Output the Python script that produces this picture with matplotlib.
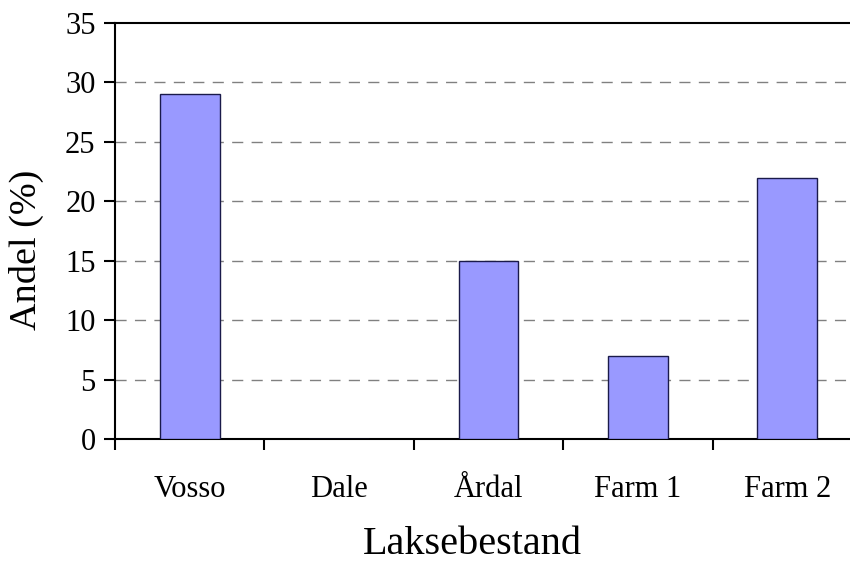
import matplotlib.pyplot as plt
import numpy as np

plt.rcParams['font.family'] = ['Liberation Serif', 'DejaVu Serif']

# Data
categories = ['Vosso', 'Dale', 'Årdal', 'Farm 1', 'Farm 2']
andel = [29, 0, 15, 7, 22]
y_ticks = [0, 5, 10, 15, 20, 25, 30, 35]

fig = plt.figure(figsize=(8.5, 5.62), dpi=100)
# plot area runs past the right edge of the image, as in the original
ax = fig.add_axes([115 / 850, 123 / 562, 747 / 850, 416 / 562])

x = np.arange(len(categories))
ax.bar(x, andel, width=0.4, color='#9999FF', edgecolor='#1a1a4a',
       linewidth=1.0, zorder=3)

ax.set_xlim(-0.5, len(categories) - 0.5)
ax.set_ylim(0, 35)
ax.set_yticks(y_ticks)

# category boundaries get tick marks, centres get labels
ax.set_xticks(np.arange(len(categories) + 1) - 0.5)
ax.set_xticklabels([])
ax.set_xticks(x, minor=True)
ax.set_xticklabels(categories, minor=True)
ax.tick_params(axis='x', which='major', direction='out', length=8, width=1.5)
ax.tick_params(axis='x', which='minor', length=0, pad=26, labelsize=22)
ax.tick_params(axis='y', direction='out', length=8, width=1.5, pad=6, labelsize=22)

# dashed gridlines, top border kept solid
for v in y_ticks[1:-1]:
    ax.axhline(v, color='#808080', linestyle=(0, (8, 6)), linewidth=1.0, zorder=1)

for side in ['left', 'bottom', 'top']:
    ax.spines[side].set_linewidth(1.5)
ax.spines['right'].set_visible(False)

ax.set_xlabel('Laksebestand', fontsize=29)
ax.set_ylabel('Andel (%)', fontsize=27.5)
ax.xaxis.set_label_coords(0.478, -0.21)
ax.yaxis.set_label_coords(-0.095, 0.454)

plt.savefig('out.png', dpi=100)
